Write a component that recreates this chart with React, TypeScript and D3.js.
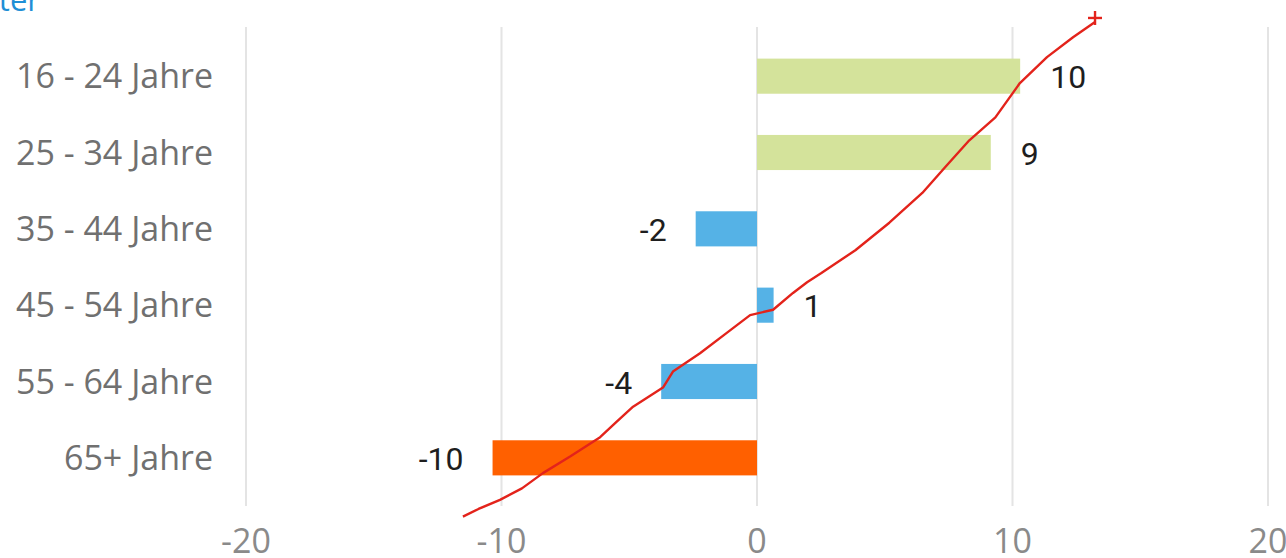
import React from "react";
import * as d3 from "d3";

const categories = ["16 - 24 Jahre", "25 - 34 Jahre", "35 - 44 Jahre", "45 - 54 Jahre", "55 - 64 Jahre", "65+ Jahre"];
const values = [10.3, 9.15, -2.4, 0.65, -3.75, -10.35];
const valueLabels = ["10", "9", "-2", "1", "-4", "-10"];
const xTicks = [-20, -10, 0, 10, 20];
// hand-drawn trend annotation: [x value, row position (0 = first row)]
const trendX = [-11.51, -10.9, -10.06, -9.2, -8.38, -7.3, -6.14, -5.5, -4.85, -3.68, -3.29, -2.23, -1.17, -0.27, 0.63, 1.41, 1.96, 2.52, 3.85, 5.18, 6.47, 7.37, 8.31, 9.33, 10.29, 11.35, 12.37, 13.23];
const trendRow = [5.77, 5.67, 5.55, 5.4, 5.2, 4.98, 4.73, 4.53, 4.33, 4.08, 3.87, 3.63, 3.36, 3.13, 3.06, 2.84, 2.7, 2.58, 2.28, 1.92, 1.53, 1.19, 0.84, 0.54, 0.09, -0.25, -0.51, -0.71];
const title = "Alter";

const W = 1286;
const H = 558;

function barColor(v: number) {
  if (v >= 5) return "#d4e39b";
  if (v <= -5) return "#ff6000";
  return "#55b2e6";
}

export default function App() {
  const x = d3.scaleLinear().domain([-20, 20]).range([246, 1268]);
  const y = d3.scaleBand<string>().domain(categories).range([38, 496]).paddingInner(0.54).paddingOuter(0.27);
  const rowCenter = (i: number) => (y(categories[i]) as number) + y.bandwidth() / 2;
  const yRow = d3.scaleLinear().domain([0, 5]).range([rowCenter(0), rowCenter(5)]);
  const line = d3
    .line<number>()
    .x((_, i) => x(trendX[i]))
    .y((_, i) => yRow(trendRow[i]))
    .curve(d3.curveLinear);
  const last = trendX.length - 1;
  const ex = x(trendX[last]);
  const ey = yRow(trendRow[last]) - 4;

  return (
    <svg width={W} height={H} style={{ position: "absolute", left: 0, top: 0, background: "#fff" }}>
      <text x={40} y={11} textAnchor="end" fill="#1f8fd6" fontFamily="'Open Sans', sans-serif" fontSize={31}>
        {title}
      </text>
      {xTicks.map((t) => (
        <g key={t}>
          <line x1={x(t)} x2={x(t)} y1={27} y2={506} stroke="#e4e4e4" strokeWidth={2} />
          <text x={x(t)} y={553} textAnchor="middle" fill="#8a8a8a" fontFamily="'Open Sans', sans-serif" fontSize={34}>
            {t}
          </text>
        </g>
      ))}
      {categories.map((c, i) => {
        const v = values[i];
        const yy = y(c) as number;
        const cy = yy + y.bandwidth() / 2;
        return (
          <g key={c}>
            <text x={213} y={cy + 12} textAnchor="end" fill="#707070" fontFamily="'Open Sans', sans-serif" fontSize={34}>
              {c}
            </text>
            <rect x={Math.min(x(0), x(v))} y={yy} width={Math.abs(x(v) - x(0))} height={y.bandwidth()} fill={barColor(v)} />
            <text
              x={v >= 0 ? x(v) + 30 : x(v) - 29}
              y={cy + 12}
              textAnchor={v >= 0 ? "start" : "end"}
              fill="#1e1e1e"
              fontFamily="Roboto, sans-serif"
              fontSize={32}
            >
              {valueLabels[i]}
            </text>
          </g>
        );
      })}
      <path d={line(trendX) || ""} fill="none" stroke="#e3231b" strokeWidth={2.4} strokeLinejoin="round" />
      <line x1={ex - 7} x2={ex + 7} y1={ey} y2={ey} stroke="#e3231b" strokeWidth={2.4} />
      <line x1={ex} x2={ex} y1={ey - 7} y2={ey + 7} stroke="#e3231b" strokeWidth={2.4} />
    </svg>
  );
}
